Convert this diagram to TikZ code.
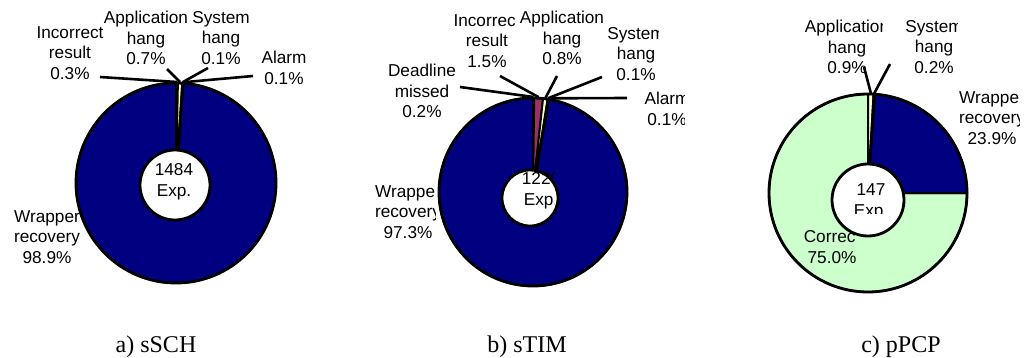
\documentclass[tikz,border=0pt]{standalone}
\usepackage{fontspec}
\setmainfont{Liberation Sans}
\newfontfamily\capfont{Liberation Serif}
\usetikzlibrary{calc}

\definecolor{navy}{HTML}{000080}
\definecolor{plum}{HTML}{993366}
\definecolor{paleyellow}{HTML}{FFFFCC}
\definecolor{palegreen}{HTML}{CCFFCC}
\definecolor{periwinkle}{HTML}{9999FF}
\definecolor{paleaqua}{HTML}{CCFFFF}
\definecolor{darkplum}{HTML}{660066}

\tikzset{
  lbl/.style={align=center, inner sep=0pt, font=\fontsize{17.2}{20.5}\selectfont},
  slice/.style={draw=black, line width=2pt, line join=round},
  rim/.style={draw=black, line width=2.8pt},
  hole/.style={fill=white, draw=black, line width=2.8pt},
  leader/.style={draw=black, line width=2.6pt},
  capt/.style={font=\capfont\fontsize{24}{28}\selectfont, inner sep=0pt, anchor=base},
}

% one wedge of a ring chart: centre, radius, start angle, end angle, fill
\newcommand\pieslice[5]{%
  \filldraw[slice, fill=#5] (#1) -- ($(#1)+(#3:#2)$)
    arc[start angle=#3, end angle=#4, radius=#2] -- cycle;}

\begin{document}
\begin{tikzpicture}[x=1pt, y=1pt]
\fill[white] (0,0) rectangle (1027,-358);
\useasboundingbox (0,0) rectangle (1027,-358);

% ---------------- a) sSCH ----------------
\coordinate (c1) at (176,-183);
\node[lbl] (inc1) at (70,-53) {Incorrect\\result\\0.3\%};
\node[lbl] (app1) at (146,-38) {Application\\hang\\0.7\%};
\node[lbl] (sys1) at (221,-38) {System\\hang\\0.1\%};
\node[lbl] (alm1) at (284,-68) {Alarm\\0.1\%};
\node[lbl] (wrp1) at (47,-237) {Wrapper\\recovery\\98.9\%};

\pieslice{c1}{100pt}{85.68}{-270}{navy}
\pieslice{c1}{100pt}{90}{88.92}{plum}
\pieslice{c1}{100pt}{88.92}{86.4}{paleyellow}
\pieslice{c1}{100pt}{86.4}{86.04}{paleaqua}
\pieslice{c1}{100pt}{86.04}{85.68}{darkplum}
\draw[rim] (c1) circle[radius=100pt];
\filldraw[hole] (175,-185) circle[radius=35pt];
\node[lbl] (tot1) at (174,-182) {1484\\Exp.};

\coordinate (inc1s) at (100,-77);  \coordinate (inc1e) at ($(c1)+(89.46:101pt)$);
\coordinate (app1s) at (167,-69);  \coordinate (app1e) at ($(c1)+(87.66:101pt)$);
\coordinate (sys1s) at (208,-68);  \coordinate (sys1e) at ($(c1)+(86.22:101pt)$);
\coordinate (alm1s) at (253,-76);  \coordinate (alm1e) at ($(c1)+(85.86:101pt)$);
\draw[leader] (inc1s) -- (inc1e);
\draw[leader] (app1s) -- (app1e);
\draw[leader] (sys1s) -- (sys1e);
\draw[leader] (alm1s) -- (alm1e);

\node[capt] (capa) at (156,-352) {a) sSCH};

% ---------------- b) sTIM ----------------
\coordinate (c2) at (533,-192);
\begin{scope}
  \clip (360,-170) rectangle (435,-250);
  \node[lbl] (wrp2) at (408,-212) {Wrapper\\recovery\\97.3\%};
\end{scope}
\begin{scope}
  \clip (380,-55) rectangle (455,-130);
  \node[lbl] (ddl2) at (422,-91) {Deadline\\missed\\0.2\%};
\end{scope}
\begin{scope}
  \clip (440,0) rectangle (514,-75);
  \node[lbl] (inc2) at (487,-41) {Incorrect\\result\\1.5\%};
\end{scope}
\node[lbl] (app2) at (562,-38) {Application\\hang\\0.8\%};
\begin{scope}
  \clip (600,-15) rectangle (658,-90);
  \node[lbl] (sys2) at (636,-54) {System\\hang\\0.1\%};
\end{scope}
\begin{scope}
  \clip (630,-80) rectangle (684,-135);
  \node[lbl] (alm2) at (667,-109) {Alarm\\0.1\%};
\end{scope}

\pieslice{c2}{94pt}{80.28}{-270}{navy}
\pieslice{c2}{94pt}{90}{89.28}{periwinkle}
\pieslice{c2}{94pt}{89.28}{83.88}{plum}
\pieslice{c2}{94pt}{83.88}{81}{paleyellow}
\pieslice{c2}{94pt}{81}{80.64}{paleaqua}
\pieslice{c2}{94pt}{80.64}{80.28}{darkplum}
\draw[rim] (c2) circle[radius=94pt];
\filldraw[hole] (530,-198) circle[radius=28pt];
\begin{scope}
  \clip (505,-160) rectangle (554,-215);
  \node[lbl] (tot2) at (541,-191) {1220\\Exp.};
\end{scope}

\coordinate (ddl2s) at (460,-87);  \coordinate (ddl2e) at ($(c2)+(89.64:95pt)$);
\coordinate (inc2s) at (500,-76);  \coordinate (inc2e) at ($(c2)+(86.58:95pt)$);
\coordinate (app2s) at (557,-76);  \coordinate (app2e) at ($(c2)+(82.44:95pt)$);
\coordinate (sys2s) at (602,-77);  \coordinate (sys2e) at ($(c2)+(80.82:95pt)$);
\coordinate (alm2s) at (627,-98);  \coordinate (alm2e) at ($(c2)+(80.46:95pt)$);
\draw[leader] (ddl2s) -- (ddl2e);
\draw[leader] (inc2s) -- (inc2e);
\draw[leader] (app2s) -- (app2e);
\draw[leader] (sys2s) -- (sys2e);
\draw[leader] (alm2s) -- (alm2e);

\node[capt] (capb) at (527,-352) {b) sTIM};

% ---------------- c) pPCP ----------------
\coordinate (c3) at (868,-193);
\begin{scope}
  \clip (790,0) rectangle (882,-85);
  \node[lbl] (app3) at (847,-47) {Application\\hang\\0.9\%};
\end{scope}
\begin{scope}
  \clip (895,0) rectangle (957,-85);
  \node[lbl] (sys3) at (934,-47) {System\\hang\\0.2\%};
\end{scope}
\begin{scope}
  \clip (950,-80) rectangle (1019,-155);
  \node[lbl] (wrp3) at (992,-118) {Wrapper\\recovery\\23.9\%};
\end{scope}

\pieslice{c3}{99pt}{0}{-270}{palegreen}
\pieslice{c3}{99pt}{86.04}{0}{navy}
\pieslice{c3}{99pt}{90}{86.76}{paleyellow}
\pieslice{c3}{99pt}{86.76}{86.04}{paleaqua}
\draw[rim] (c3) circle[radius=99pt];
\filldraw[hole] (868,-200) circle[radius=36pt];
\begin{scope}
  \clip (845,-170) rectangle (887,-213);
  \node[lbl] (tot3) at (871,-202) {147\\Exp.};
\end{scope}
\begin{scope}
  \clip (795,-222) rectangle (855,-272);
  \node[lbl] (cor3) at (832,-247) {Correct\\75.0\%};
\end{scope}

\coordinate (app3s) at (864,-67);  \coordinate (app3e) at ($(c3)+(88.38:100pt)$);
\coordinate (sys3s) at (890,-64);  \coordinate (sys3e) at ($(c3)+(86.4:100pt)$);
\draw[leader] (app3s) -- (app3e);
\draw[leader] (sys3s) -- (sys3e);

\node[capt] (capc) at (901,-352) {c) pPCP};
\end{tikzpicture}
\end{document}
